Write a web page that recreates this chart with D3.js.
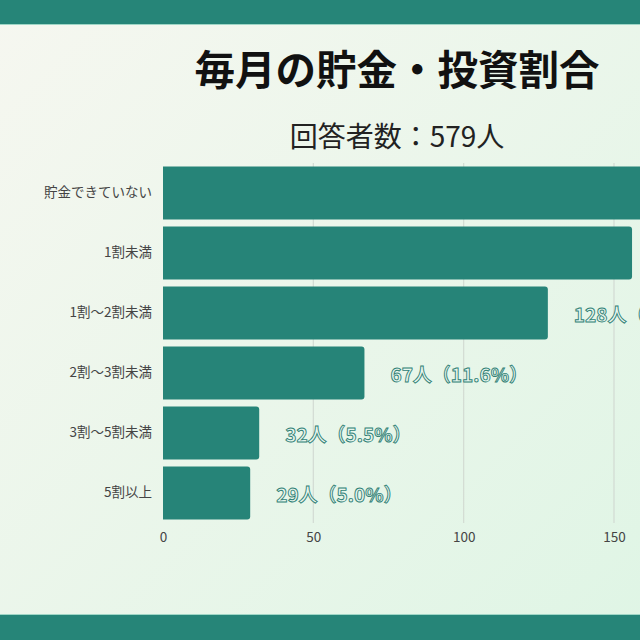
<!DOCTYPE html>
<html>
<head>
<meta charset="utf-8">
<script src="https://cdn.jsdelivr.net/npm/d3@7"></script>
<style>
html, body { margin: 0; padding: 0; overflow: hidden; }
svg { display: block; }
text { font-family: "Noto Sans CJK JP", "Noto Sans", sans-serif; }
</style>
</head>
<body>
<svg id="chart" width="640" height="640"></svg>
<script>
const title = "毎月の貯金・投資割合";
const subtitle = "回答者数：579人";
const total = 579;
const categories = ["貯金できていない", "1割未満", "1割～2割未満", "2割～3割未満", "3割～5割未満", "5割以上"];
const counts = [167, 156, 128, 67, 32, 29];
const percents = ["28.8", "26.9", "22.1", "11.6", "5.5", "5.0"];
const xTicks = [0, 50, 100, 150];

const svg = d3.select("#chart");
const W = 640, H = 640;

const defs = svg.append("defs");
const grad = defs.append("linearGradient").attr("id", "bg")
  .attr("x1", "0%").attr("y1", "0%").attr("x2", "100%").attr("y2", "100%");
grad.append("stop").attr("offset", "0%").attr("stop-color", "#f6f7f0");
grad.append("stop").attr("offset", "100%").attr("stop-color", "#dff5e5");

svg.append("rect").attr("width", W).attr("height", H).attr("fill", "url(#bg)");

// bands
svg.append("rect").attr("x", 0).attr("y", 0).attr("width", W).attr("height", 24).attr("fill", "#268578");
svg.append("rect").attr("x", 0).attr("y", 24).attr("width", W).attr("height", 1).attr("fill", "#9fd6c6");
svg.append("rect").attr("x", 0).attr("y", 615).attr("width", W).attr("height", 25).attr("fill", "#268578");
svg.append("rect").attr("x", 0).attr("y", 614).attr("width", W).attr("height", 1).attr("fill", "#9fd6c6");

// titles
svg.append("text").attr("x", 397).attr("y", 67)
  .attr("text-anchor", "middle").attr("dominant-baseline", "central")
  .attr("font-size", 40.5).attr("font-weight", 700).attr("fill", "#111")
  .text(title);
svg.append("text").attr("x", 397).attr("y", 135)
  .attr("text-anchor", "middle").attr("dominant-baseline", "central")
  .attr("font-size", 28).attr("font-weight", 400).attr("fill", "#222")
  .text(subtitle);

const x = d3.scaleLinear().domain([0, 150]).range([163, 614]);
const y = d3.scaleBand().domain(categories).range([163, 523])
  .paddingInner(0.12).paddingOuter(0.06);

// gridlines
svg.append("g").selectAll("line").data(xTicks.filter(t => t > 0)).join("line")
  .attr("x1", d => x(d)).attr("x2", d => x(d))
  .attr("y1", 163).attr("y2", 523)
  .attr("stroke", "#d2dbd3").attr("stroke-width", 1.2);

// x axis
const xAxis = svg.append("g").attr("transform", "translate(0,523)")
  .call(d3.axisBottom(x).tickValues(xTicks).tickSize(0).tickPadding(9));
xAxis.select(".domain").remove();
xAxis.selectAll("text").attr("font-size", 13.5).attr("fill", "#444")
  .attr("font-family", "'Noto Sans CJK JP', sans-serif");

// y axis
const yAxis = svg.append("g").attr("transform", "translate(163,0)")
  .call(d3.axisLeft(y).tickSize(0).tickPadding(11));
yAxis.select(".domain").remove();
yAxis.selectAll("text").attr("font-size", 13.5).attr("fill", "#444")
  .attr("font-family", "'Noto Sans CJK JP', sans-serif");

// bars with rounded right corners
const r = 3;
function barPath(v, cat) {
  const x0 = x(0), x1 = x(v), y0 = y(cat), h = y.bandwidth();
  return `M${x0},${y0} H${x1 - r} Q${x1},${y0} ${x1},${y0 + r} V${y0 + h - r} Q${x1},${y0 + h} ${x1 - r},${y0 + h} H${x0} Z`;
}
const data = categories.map((c, i) => ({ c, v: counts[i], p: percents[i] }));
svg.append("g").selectAll("path").data(data).join("path")
  .attr("d", d => barPath(d.v, d.c))
  .attr("fill", "#268478");

// value labels
svg.append("g").selectAll("text").data(data).join("text")
  .attr("x", d => x(d.v) + 26)
  .attr("y", d => y(d.c) + y.bandwidth() / 2)
  .attr("dominant-baseline", "central")
  .attr("font-size", 19).attr("font-weight", 700)
  .attr("fill", "#e8f6ee").attr("stroke", "#2f8075").attr("stroke-width", 0.9)
  .text(d => `${d.v}人（${d.p}%）`);
</script>
</body>
</html>
